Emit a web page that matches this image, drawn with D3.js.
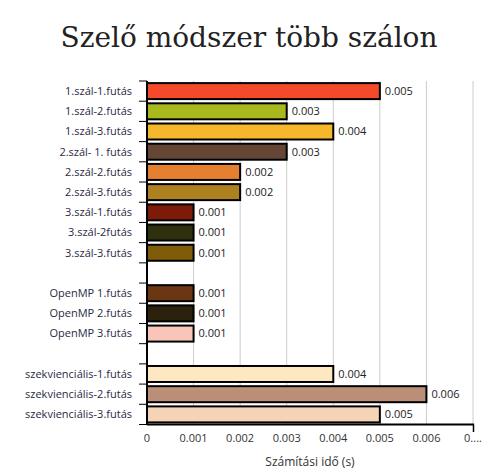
<!DOCTYPE html><html><head><meta charset="utf-8"><script src="https://cdn.jsdelivr.net/npm/d3@7"></script>
<style>body{margin:0;background:#fff}text{font-family:"Open Sans",sans-serif}</style></head><body><svg id="c" width="498" height="471"></svg>
<script>
const categories=["1.szál-1.futás","1.szál-2.futás","1.szál-3.futás","2.szál- 1. futás","2.szál-2.futás","2.szál-3.futás","3.szál-1.futás","3.szál-2futás","3.szál-3.futás","","OpenMP 1.futás","OpenMP 2.futás","OpenMP 3.futás"," ","szekvienciális-1.futás","szekvienciális-2.futás","szekvienciális-3.futás"];
const values=[0.005,0.003,0.004,0.003,0.002,0.002,0.001,0.001,0.001,null,0.001,0.001,0.001,null,0.004,0.006,0.005];
const colors=["#f44a2b","#a9b81d","#f5b82b","#654634","#e68031","#ad8020","#7e1b08","#2e300e","#7e5c09",null,"#6b3713","#2b210c","#f9c5b9",null,"#fde8c1","#bb8e77","#f5d3b6"];
const tickValues=[0,0.001,0.002,0.003,0.004,0.005,0.006,0.007];
const svg=d3.select("#c");
const x=d3.scaleLinear().domain([0,0.007]).range([147,473]);
const y=d3.scaleBand().domain(categories).range([81,424.5]).paddingInner(0.2).paddingOuter(0.1);
svg.append("text").attr("x",249).attr("y",47).attr("text-anchor","middle").style("font-family","'DejaVu Serif',serif").style("font-size","28px").attr("fill","#222").text("Szelő módszer több szálon");
svg.append("g").selectAll("line").data(tickValues.slice(1)).join("line").attr("x1",d=>x(d)).attr("x2",d=>x(d)).attr("y1",81).attr("y2",424.5).attr("stroke","#ccc");
const step=y.step();
const bounds=d3.range(categories.length+1).map(i=>81+i*(343.5/categories.length));
svg.append("line").attr("x1",147).attr("x2",147).attr("y1",81).attr("y2",424.5).attr("stroke","#000").attr("stroke-width",2);
svg.append("g").selectAll("line").data(bounds).join("line").attr("x1",139).attr("x2",147).attr("y1",d=>d).attr("y2",d=>d).attr("stroke","#000").attr("stroke-width",1);
const data=categories.map((c,i)=>({c,v:values[i],col:colors[i]})).filter(d=>d.v!=null);
const bh=16, off=(343.5/categories.length-bh)/2;
svg.append("g").selectAll("rect").data(data).join("rect").attr("x",x(0)).attr("y",d=>bounds[categories.indexOf(d.c)]+off).attr("width",d=>x(d.v)-x(0)).attr("height",bh).attr("fill",d=>d.col).attr("stroke","#000").attr("stroke-width",2);
svg.append("g").selectAll("text").data(data).join("text").attr("x",d=>x(d.v)+5).attr("y",d=>bounds[categories.indexOf(d.c)]+off+bh/2).attr("dy","0.35em").style("font-size","11px").attr("fill","#222").text(d=>d.v);
svg.append("g").selectAll("text").data(categories).join("text").attr("x",132).attr("y",(d,i)=>bounds[i]+343.5/categories.length/2).attr("dy","0.35em").attr("text-anchor","end").style("font-size","11px").attr("fill","#2a2a44").text(d=>d.trim());
svg.append("line").attr("x1",147).attr("x2",474).attr("y1",424.5).attr("y2",424.5).attr("stroke","#000").attr("stroke-width",2);
svg.append("line").attr("x1",473.5).attr("x2",473.5).attr("y1",424.5).attr("y2",432).attr("stroke","#000").attr("stroke-width",1.5);
svg.append("g").selectAll("text").data(tickValues).join("text").attr("x",d=>x(d)).attr("y",442).attr("text-anchor","middle").style("font-size","11px").attr("fill","#333").text(d=>d===0.007?"0....":d);
svg.append("text").attr("x",310).attr("y",466).attr("text-anchor","middle").style("font-size","12px").attr("fill","#333").text("Számítási idő (s)");
</script></body></html>
